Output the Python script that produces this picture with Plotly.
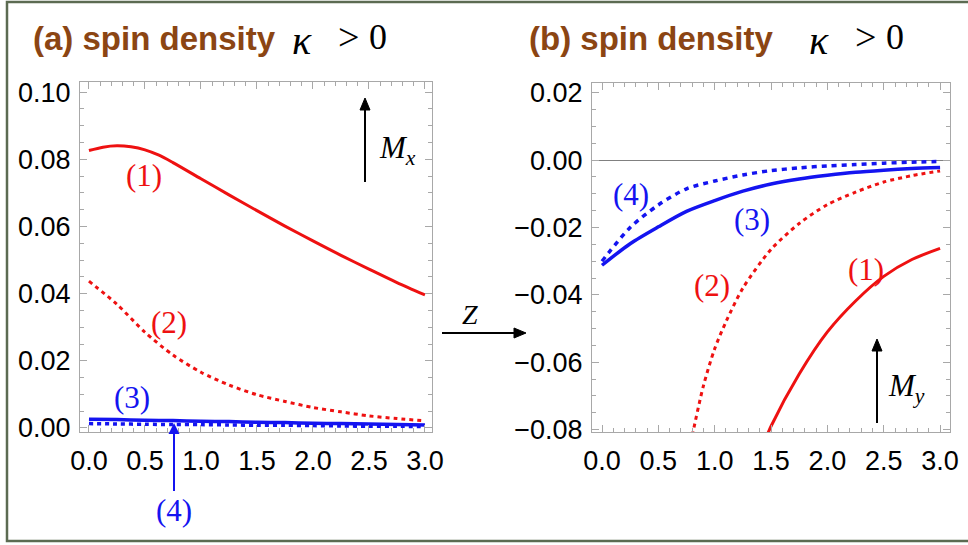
import plotly.graph_objects as go

W, H = 968, 545

# ---------------- data ----------------
z_grid = [0.0, 0.25, 0.5, 0.75, 1.0, 1.25, 1.5, 1.75, 2.0, 2.25, 2.5, 2.75, 3.0]

# (a) Mx
z_mx1 = [0.0, 0.125, 0.25, 0.375, 0.5, 0.625, 0.75, 1.0, 1.25, 1.5, 1.75, 2.0, 2.25, 2.5, 2.75, 3.0]
mx_1 = [0.0826, 0.0836, 0.0840, 0.0837, 0.0828, 0.0812, 0.0790, 0.0742, 0.0694, 0.0647, 0.0601, 0.0557,
        0.0514, 0.0473, 0.0433, 0.0396]
mx_2 = [0.0437, 0.0368, 0.0285, 0.0217, 0.0166, 0.0128, 0.0099, 0.0079, 0.0061, 0.0048, 0.0036, 0.0028, 0.0021]
mx_3 = [0.0026, 0.0025, 0.0023, 0.0022, 0.0020, 0.0019, 0.0017, 0.0016, 0.0014, 0.0013, 0.0012, 0.0010, 0.0009]
mx_4 = [0.0013, 0.0012, 0.0011, 0.0010, 0.0010, 0.0009, 0.0008, 0.0008, 0.0007, 0.0006, 0.0005, 0.0005, 0.0004]

# (b) My
my_3 = [-0.0312, -0.0248, -0.0198, -0.0152, -0.0120, -0.0092, -0.0071, -0.0056, -0.0045, -0.0036, -0.0030, -0.0025, -0.0022]
my_4 = [-0.0300, -0.0200, -0.0133, -0.0085, -0.0062, -0.0044, -0.0031, -0.0023, -0.0017, -0.0013, -0.0009, -0.0006, -0.0004]
z_my2 = [0.75, 0.8, 0.9, 1.0, 1.1, 1.25, 1.5, 1.75, 2.0, 2.25, 2.5, 2.75, 3.0]
my_2 = [-0.091, -0.082, -0.067, -0.056, -0.048, -0.038, -0.0265, -0.0188, -0.0132, -0.0095, -0.0065, -0.0046, -0.0032]
z_my1 = [1.4, 1.5, 1.75, 2.0, 2.25, 2.5, 2.75, 3.0]
my_1 = [-0.087, -0.079, -0.0635, -0.0510, -0.0418, -0.0345, -0.0295, -0.0262]

x_ticks = [0.0, 0.5, 1.0, 1.5, 2.0, 2.5, 3.0]
x_ticktext = ["0.0", "0.5", "1.0", "1.5", "2.0", "2.5", "3.0"]

RED = "#ee1111"
BLUE = "#1414f0"
BROWN = "#8B4513"


def px(x):
    return x / W


def py(y):
    return 1 - y / H


fig = go.Figure()


def add(x, y, color, dash, xa, ya, width=3):
    fig.add_trace(go.Scatter(x=x, y=y, mode="lines", xaxis=xa, yaxis=ya,
                             line=dict(color=color, width=width, dash=dash, shape="spline", smoothing=0.8),
                             showlegend=False, hoverinfo="skip"))


add(z_mx1, mx_1, RED, "solid", "x", "y")
add(z_grid, mx_2, RED, "4px,4px", "x", "y")
add(z_grid, mx_3, BLUE, "solid", "x", "y", 3.5)
add(z_grid, mx_4, BLUE, "4px,4px", "x", "y", 3.5)

add(z_my1, my_1, RED, "solid", "x2", "y2")
add(z_my2, my_2, RED, "4px,4px", "x2", "y2")
add(z_grid, my_3, BLUE, "solid", "x2", "y2", 3.5)
add(z_grid, my_4, BLUE, "5px,5px", "x2", "y2", 3.5)

FRAME = "#a8a8a8"
tickfont = dict(family="Liberation Sans, Arial", size=27, color="black")

xcommon = dict(tickvals=x_ticks, ticktext=x_ticktext, ticks="inside", ticklen=7, tickcolor=FRAME,
               showline=True, linecolor=FRAME, linewidth=1, mirror="ticks", showgrid=False,
               zeroline=False, tickfont=tickfont, ticklabelstandoff=5, automargin=False,
               minor=dict(dtick=0.1, tick0=0, ticks="inside", ticklen=4, tickcolor=FRAME, showgrid=False))
ycommon = dict(dtick=0.02, tick0=0, tickformat=".2f", ticks="inside", ticklen=7, tickcolor=FRAME,
               showline=True, linecolor=FRAME, linewidth=1, mirror="ticks", showgrid=False,
               tickfont=tickfont, ticklabelstandoff=3, automargin=False,
               minor=dict(dtick=0.005, tick0=0, ticks="inside", ticklen=4, tickcolor=FRAME, showgrid=False))

fig.update_layout(
    width=W, height=H,
    margin=dict(l=0, r=0, t=0, b=0, pad=0, autoexpand=False),
    paper_bgcolor="white", plot_bgcolor="white",
    xaxis=dict(domain=[px(80), px(432)], range=[-0.08, 3.063], anchor="y", **xcommon),
    yaxis=dict(domain=[py(432), py(82)], range=[-0.0012, 0.103], anchor="x", zeroline=False, **ycommon),
    xaxis2=dict(domain=[px(592), px(950)], range=[-0.0887, 3.088], anchor="y2", **xcommon),
    yaxis2=dict(domain=[py(432), py(83)], range=[-0.0807, 0.0229], anchor="x2",
                zeroline=True, zerolinecolor="#808080", zerolinewidth=1, **ycommon),
)

ann = []
title_font = dict(family="Liberation Sans, Arial", size=33, color=BROWN)
serif = "Liberation Serif, Times New Roman"
ann.append(dict(text="<b>(a) spin density</b>", x=px(31), y=py(38), font=title_font, xanchor="left"))
ann.append(dict(text="<b>(b) spin density</b>", x=px(527), y=py(38), font=title_font, xanchor="left"))
# kappa > 0 pieces (panel a, panel b)
for off in (0, 517):
    ann.append(dict(text="<i>κ</i>", x=px(302 + off), y=py(40), xanchor="center",
                    font=dict(family=serif, size=40, color="black")))
    ann.append(dict(text=">", x=px(348 + off), y=py(37), xanchor="center",
                    font=dict(family=serif, size=38, color="black")))
    ann.append(dict(text="0", x=px(378 + off), y=py(37), xanchor="center",
                    font=dict(family=serif, size=36, color="black")))
for a in ann:
    a.update(xref="paper", yref="paper", yanchor="middle", showarrow=False)


def lab_font(c):
    return dict(family=serif, size=31, color=c)


labels = [
    ("(1)", 144, 175, RED), ("(2)", 169, 322, RED), ("(3)", 132, 397, BLUE),
    ("(4)", 631, 194, BLUE), ("(3)", 752, 219, BLUE), ("(2)", 712, 285, RED), ("(1)", 866, 269, RED),
]
for t, x, y, c in labels:
    ann.append(dict(text=t, x=px(x), y=py(y), xref="paper", yref="paper", showarrow=False,
                    xanchor="center", yanchor="middle", font=lab_font(c)))

# (4) with blue arrow in panel (a)
ann.append(dict(text="(4)", x=px(174), y=py(423), xref="paper", yref="paper",
                ax=0, ay=87, showarrow=True, arrowhead=2, arrowsize=1.1, arrowwidth=2,
                arrowcolor=BLUE, standoff=0, font=lab_font(BLUE)))

math_font = dict(family=serif, size=31, color="black")
ann.append(dict(text="<i>M</i><sub><i>x</i></sub>", x=px(377), y=py(150), xref="paper", yref="paper",
                showarrow=False, xanchor="left", yanchor="middle", font=math_font))
ann.append(dict(text="<i>M</i><sub><i>y</i></sub>", x=px(886), y=py(388), xref="paper", yref="paper",
                showarrow=False, xanchor="left", yanchor="middle", font=math_font))
ann.append(dict(text="<i>Z</i>", x=px(470), y=py(314), xref="paper", yref="paper",
                showarrow=False, xanchor="center", yanchor="middle",
                font=dict(family=serif, size=28, color="black")))

fig.update_layout(annotations=ann)


# black arrows drawn as shapes (shaft + triangular head)
def arrow_v(x, y_tail, y_head, head=12, half=5):
    fig.add_shape(type="line", xref="paper", yref="paper", x0=px(x), x1=px(x),
                  y0=py(y_tail), y1=py(y_head + head - 1), line=dict(color="black", width=2))
    path = f"M {px(x)} {py(y_head)} L {px(x - half)} {py(y_head + head)} L {px(x + half)} {py(y_head + head)} Z"
    fig.add_shape(type="path", xref="paper", yref="paper", path=path,
                  fillcolor="black", line=dict(color="black", width=1))


def arrow_h(y, x_tail, x_head, head=12, half=5):
    fig.add_shape(type="line", xref="paper", yref="paper", x0=px(x_tail), x1=px(x_head - head + 1),
                  y0=py(y), y1=py(y), line=dict(color="black", width=2))
    path = f"M {px(x_head)} {py(y)} L {px(x_head - head)} {py(y - half)} L {px(x_head - head)} {py(y + half)} Z"
    fig.add_shape(type="path", xref="paper", yref="paper", path=path,
                  fillcolor="black", line=dict(color="black", width=1))


arrow_v(365, 182, 98)
arrow_v(877, 423, 339)
arrow_h(333, 442, 526)

# outer frame
fig.add_shape(type="rect", xref="paper", yref="paper", x0=px(7), x1=px(975), y0=py(541), y1=py(2),
              line=dict(color="#5c6b52", width=2.5), fillcolor="rgba(0,0,0,0)", layer="below")

fig.write_html("out.html")
